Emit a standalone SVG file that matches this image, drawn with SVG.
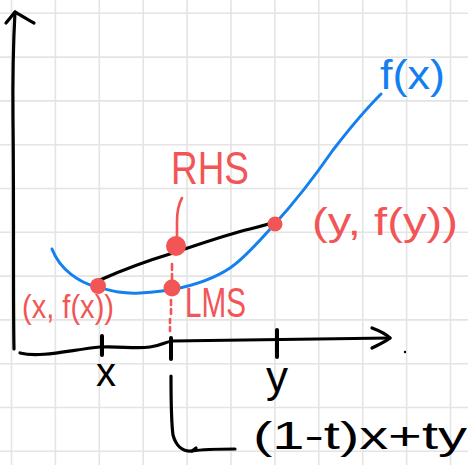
<svg xmlns="http://www.w3.org/2000/svg" width="468" height="465" viewBox="0 0 468 465">
<defs>
<style>
.grid{stroke:#e4e4e4;stroke-width:1.6;fill:none}
.ink{stroke:#000;stroke-width:3.2;fill:none;stroke-linecap:round;stroke-linejoin:round}
.blue{stroke:#1480f0;stroke-width:3;fill:none;stroke-linecap:round}
.red{stroke:#f25555;stroke-width:2.6;fill:none;stroke-linecap:round}
.dot{fill:#f25555}
.t{font-family:"Liberation Sans","DejaVu Sans",sans-serif}
.tr{fill:#f25555}
.tb{fill:#1480f0}
.tk{fill:#000}
</style>
</defs>
<rect width="468" height="465" fill="#fff"/>
<g id="grid" class="grid">
<path d="M11.5 0V465M55.4 0V465M99.3 0V465M143.2 0V465M187.1 0V465M231 0V465M274.9 0V465M318.8 0V465M362.7 0V465M406.6 0V465M450.5 0V465"/>
<path d="M0 13.3H468M0 57.1H468M0 100.9H468M0 144.7H468M0 188.5H468M0 232.3H468M0 276.1H468M0 319.9H468M0 363.7H468M0 407.5H468M0 451.3H468"/>
</g>
<g id="axes" class="ink">
<path d="M14 349C13 300 14 200 13 120C12.5 70 14 30 15 12"/>
<path d="M6 23L15 12C22 16 28 20 34 23"/>
<path d="M20 353C40 358 70 350 100 347C120 346 135 349 150 347C160 346 165 342 172 341L390 338"/>
<path d="M372 328C380 331 386 334 390 338C385 342 378 345 372 348"/>
<path d="M102 336V355M171 338V359M277 330V357" stroke-width="4"/>
<circle cx="405" cy="352" r="1.2" fill="#000" stroke="none"/>
</g>
<g id="curve">
<path class="blue" d="M52 249C60 270 80 283 97 287C112 291 122 294 140 293C155 292 165 291 175 289C195 285 215 278 230 268C245 258 260 240 273 226C295 202 315 176 333 150C350 128 365 110 381 94"/>
</g>
<g id="connectors">
<path class="ink" d="M100 280C120 271 140 263 173 253C200 244 225 235 250 229C262 226 270 224 277 221"/>
<path class="red" d="M182 198C178 205 177 215 177 222V238"/>
<path class="red" d="M172 264V270M172 274V280" stroke-width="2"/>
<path class="red" d="M171 300V305M171 309V314M170 319V323M170 327V331" stroke-width="2"/>
<path class="ink" d="M171 376C171 400 171 420 173 435C176 446 183 452 192 451C205 449 220 449 235 449"/>
<path class="ink" d="M196 448L192 451" stroke-width="2.5"/>
</g>
<g id="p-x">
<circle class="dot" cx="98" cy="286" r="8"/>
<text class="t tr" x="22" y="318" font-size="34" textLength="92" lengthAdjust="spacingAndGlyphs">(x, f(x))</text>
</g>
<g id="p-rhs">
<circle class="dot" cx="176" cy="246" r="10"/>
<text class="t tr" x="171" y="184" font-size="46" textLength="78" lengthAdjust="spacingAndGlyphs">RHS</text>
</g>
<g id="p-lms">
<circle class="dot" cx="172" cy="288" r="8.5"/>
<text class="t tr" x="185" y="317" font-size="42" textLength="61" lengthAdjust="spacingAndGlyphs">LMS</text>
</g>
<g id="p-y">
<circle class="dot" cx="275" cy="224" r="7.5"/>
<text class="t tr" x="312" y="235" font-size="38" textLength="146" lengthAdjust="spacingAndGlyphs">(y, f(y))</text>
</g>
<g id="f-label">
<text class="t tb" x="380" y="89" font-size="40" textLength="65" lengthAdjust="spacingAndGlyphs">f(x)</text>
</g>
<g id="tick-labels">
<text class="t tk" x="96" y="386" font-size="40">x</text>
<text class="t tk" x="266" y="392" font-size="44">y</text>
<text class="t tk" x="253" y="449" font-size="38" textLength="214" lengthAdjust="spacingAndGlyphs">(1-t)x+ty</text>
</g>
</svg>
